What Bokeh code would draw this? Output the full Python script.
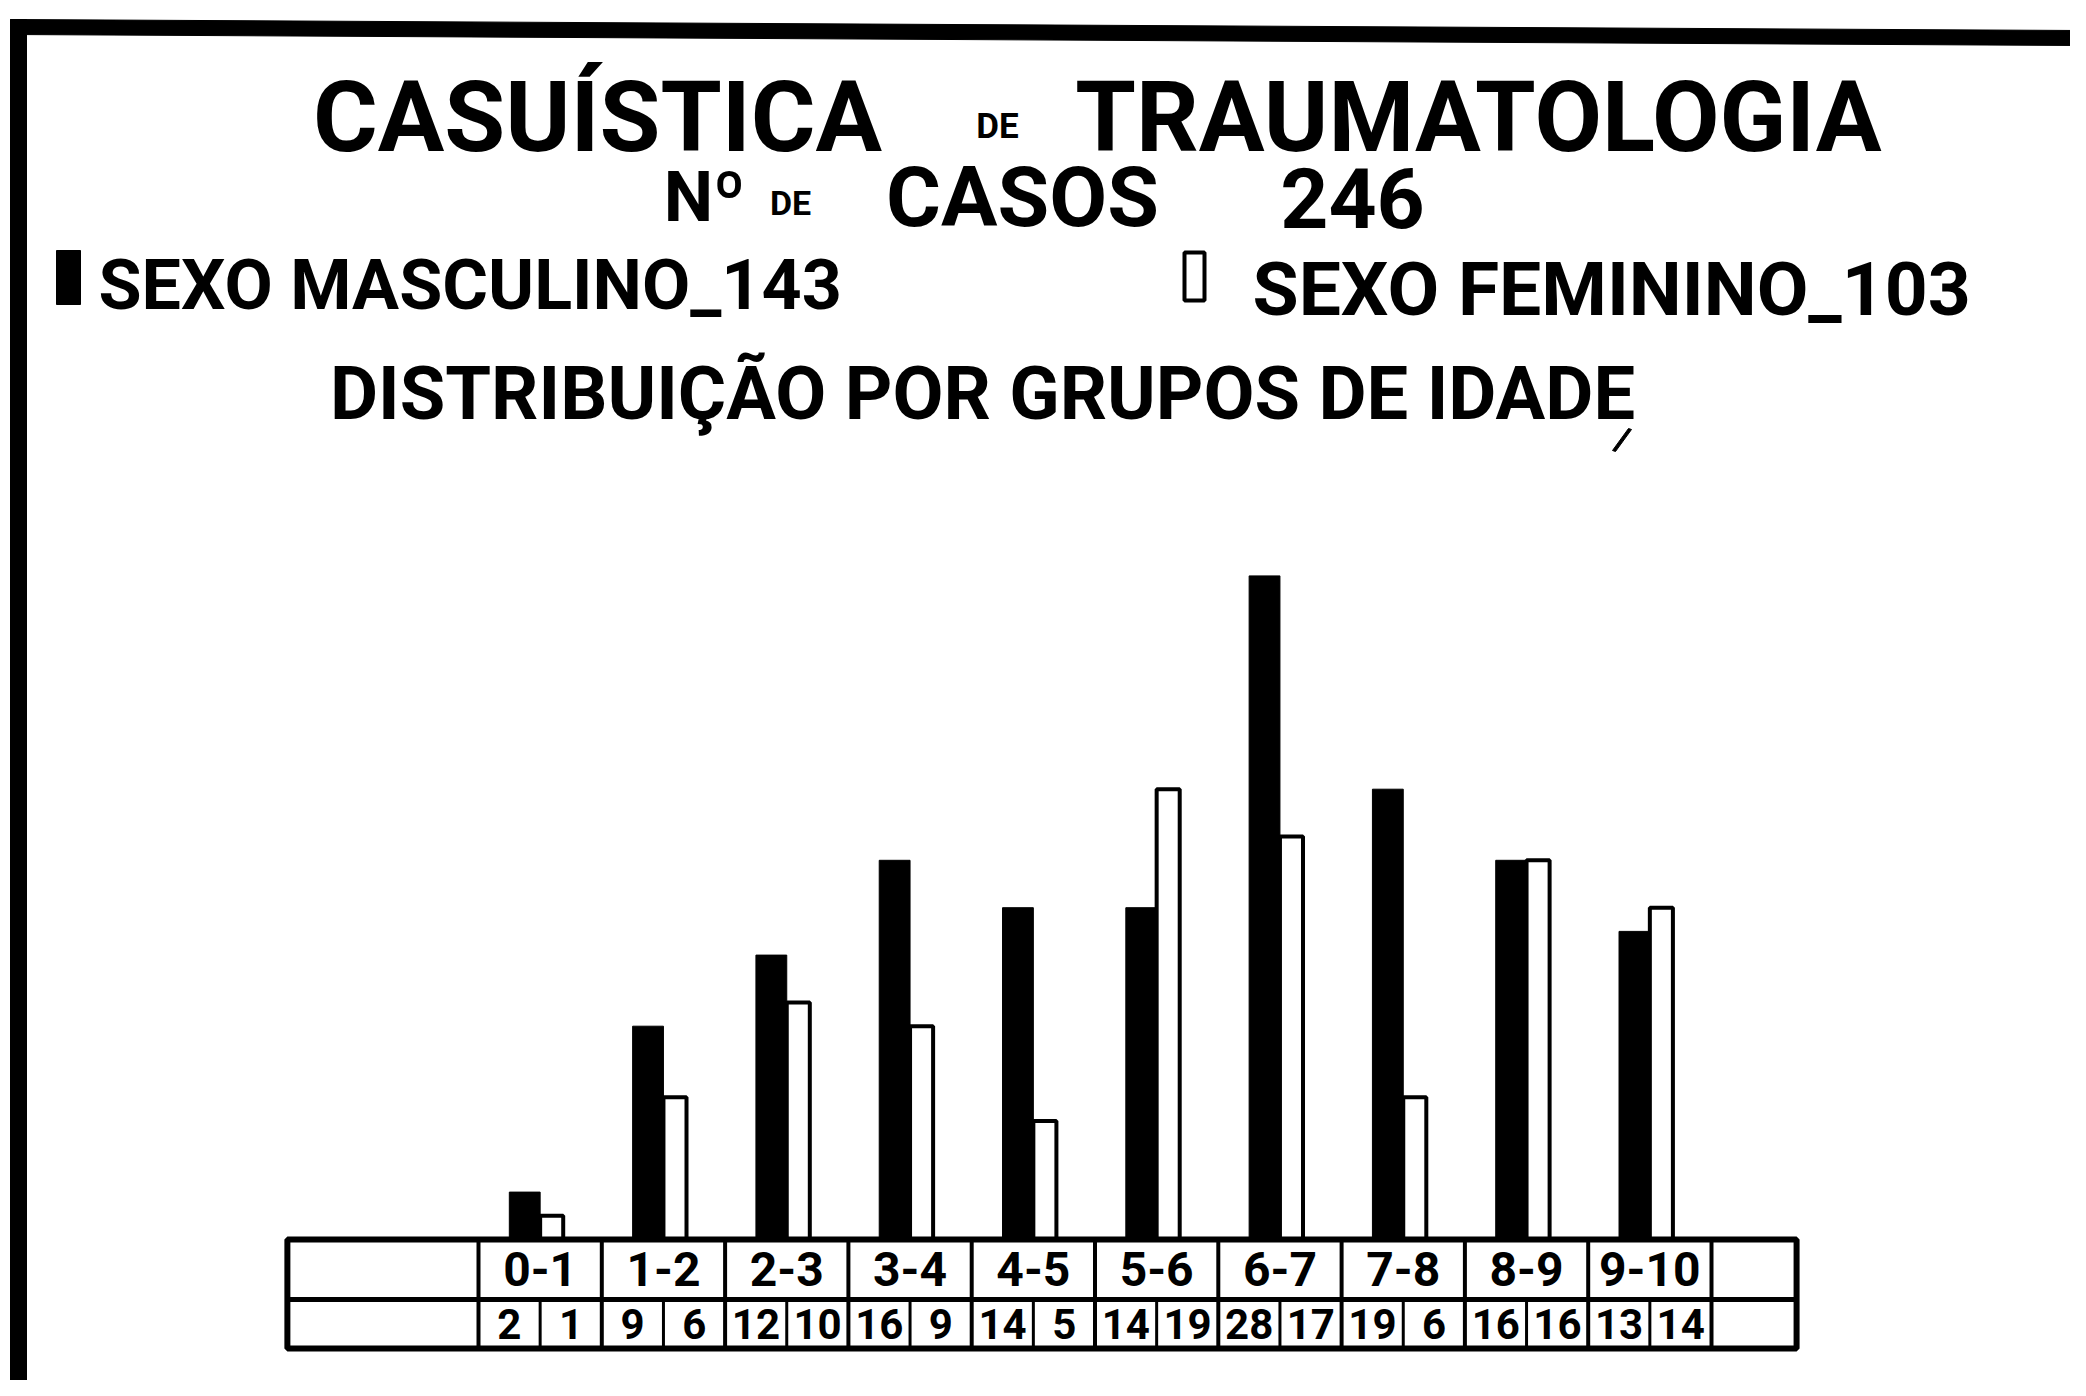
import numpy as np
from bokeh.plotting import figure
from bokeh.models import ColumnDataSource, Range1d
from bokeh.core.properties import value
from bokeh.embed import file_html
from bokeh.resources import INLINE

# ---------------- data ----------------
age_groups = ["0-1", "1-2", "2-3", "3-4", "4-5", "5-6", "6-7", "7-8", "8-9", "9-10"]
male_cases = [2, 9, 12, 16, 14, 14, 28, 19, 16, 13]
female_cases = [1, 6, 10, 9, 5, 19, 17, 6, 16, 14]

male_total = sum(male_cases)
female_total = sum(female_cases)
all_total = male_total + female_total

# ---------------- layout ----------------
W, H = 2070, 1380
PX_X = 123.3          # pixels per age-group cell
PX_Y = 23.7           # pixels per case
X0 = 478.0            # screen x of the first cell's left edge
Y0 = 141.0            # screen y (from bottom) of the bar baseline

x_start = -X0 / PX_X
y_start = -Y0 / PX_Y

p = figure(width=W, height=H,
           x_range=Range1d(x_start, x_start + W / PX_X),
           y_range=Range1d(y_start, y_start + H / PX_Y),
           output_backend="svg", toolbar_location=None,
           x_axis_location=None, y_axis_location=None,
           min_border=0, outline_line_color=None,
           background_fill_color="white", border_fill_color="white")
p.grid.visible = False

FONT = "Roboto"


def dx(X):
    return x_start + (X - 8) / PX_X


def dy(Y):
    return y_start + (1388 - Y) / PX_Y


# ---------------- sheet decorations (positions in image pixels) ----------------
p.patch(x=[dx(18), dx(2086), dx(2086), dx(18)],
        y=[dy(27), dy(38), dy(53), dy(42)],
        fill_color="black", line_color="black")
p.quad(left=[dx(18)], right=[dx(34)], top=[dy(27)], bottom=[dy(1400)],
       fill_color="black", line_color="black")
p.patch(x=[dx(1636), dx(1639), dx(1623), dx(1620)],
        y=[dy(436), dy(437), dy(459), dy(458)],
        fill_color="black", line_color="black", line_width=1)
p.quad(left=[dx(64)], right=[dx(88)], top=[dy(258)], bottom=[dy(312)],
       fill_color="black", line_color="black")
p.quad(left=[dx(1192)], right=[dx(1212)], top=[dy(260)], bottom=[dy(308)],
       fill_color="white", line_color="black", line_width=4)

# ---------------- bars ----------------
n = len(age_groups)
idx = np.arange(n)
split = idx + 0.5
MW, FW = 0.25, 0.187

src = ColumnDataSource(dict(
    m_left=split - MW, m_right=split, f_left=split, f_right=split + FW,
    male=male_cases, female=female_cases))

p.quad(left="m_left", right="m_right", bottom=0, top="male", source=src,
       fill_color="black", line_color="black", line_width=1)
p.quad(left="f_left", right="f_right", bottom=0, top="female", source=src,
       fill_color="white", line_color="black", line_width=4)

# ---------------- table ----------------
TOP, MID, BOT = 0.0, -2.53, -4.6
LEFT, RIGHT = -1.55, n + 0.69

p.quad(left=LEFT, right=RIGHT, top=TOP, bottom=BOT, fill_color=None,
       line_color="black", line_width=6)
p.segment(x0=LEFT, x1=RIGHT, y0=MID, y1=MID, line_color="black", line_width=5)
bounds = np.arange(n + 1)
p.segment(x0=bounds, x1=bounds, y0=[BOT] * (n + 1), y1=[TOP] * (n + 1),
          line_color="black", line_width=4)
p.segment(x0=idx + 0.5, x1=idx + 0.5, y0=[BOT] * n, y1=[MID] * n,
          line_color="black", line_width=3)

p.text(x=idx + 0.5, y=[(TOP + MID) / 2] * n, text=age_groups,
       text_font=value(FONT), text_font_size="48px", text_font_style="bold",
       text_align="center", text_baseline="middle", text_color="black")
p.text(x=idx + 0.25, y=[(MID + BOT) / 2] * n, text=[str(v) for v in male_cases],
       text_font=value(FONT), text_font_size="42px", text_font_style="bold",
       text_align="center", text_baseline="middle", text_color="black")
p.text(x=idx + 0.75, y=[(MID + BOT) / 2] * n, text=[str(v) for v in female_cases],
       text_font=value(FONT), text_font_size="42px", text_font_style="bold",
       text_align="center", text_baseline="middle", text_color="black")


# ---------------- titles ----------------
def lab(text, X, Y, size, align="center"):
    p.text(x=[dx(X)], y=[dy(Y)], text=[text], text_font=value(FONT),
           text_font_size=f"{size}px", text_font_style="bold",
           text_align=align, text_baseline="middle", text_color="black")


lab("DE", 1005, 134, 35)
lab("TRAUMATOLOGIA", 1486, 125, 98)
lab("Nº", 712, 204, 70)
lab("DE", 798, 210, 34)
lab("CASOS", 1030, 205, 84)
lab(str(all_total), 1360, 205, 84)
lab(f"SEXO MASCULINO_{male_total}", 106, 292, 70, "left")
lab(f"SEXO FEMININO_{female_total}", 1260, 296, 75, "left")
lab("DISTRIBUIÇÃO POR GRUPOS DE IDADE", 990, 401, 74)
lab("CASUÍSTICA", 605, 124, 99)

open("out.html", "w").write(file_html(p, INLINE))
